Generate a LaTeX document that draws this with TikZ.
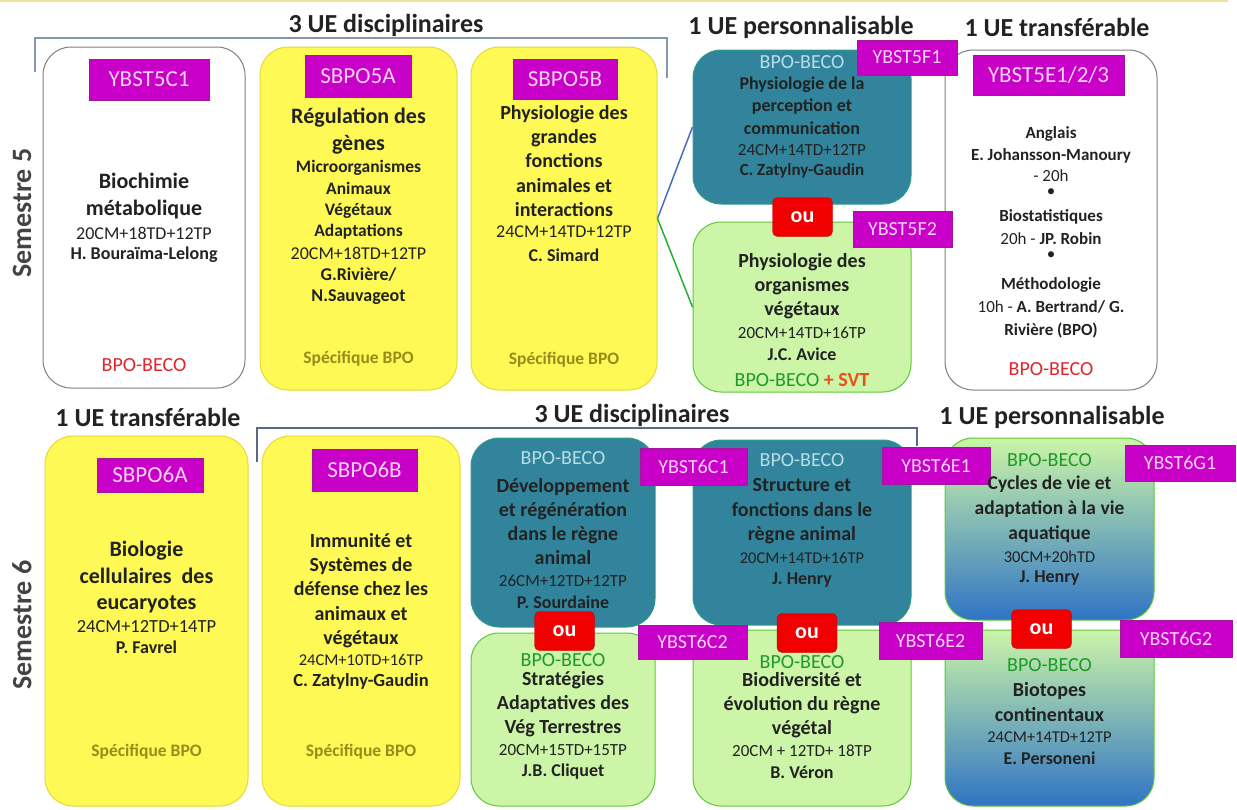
\documentclass[tikz,border=0pt]{standalone}
\usepackage{fontspec}
\setmainfont{Carlito}
\usepackage{xcolor}
\usepackage{tikz}

\definecolor{texte}{HTML}{222222}
\definecolor{gristrait}{HTML}{7F7F7F}
\definecolor{jaunefond}{HTML}{FFF955}
\definecolor{jaunetrait}{HTML}{E6D83A}
\definecolor{bleufond}{HTML}{31849B}
\definecolor{bleutrait}{HTML}{2E9C88}
\definecolor{bleutexte}{HTML}{B7DEE8}
\definecolor{vertfond}{HTML}{CCF5A8}
\definecolor{verttrait}{HTML}{5CC83A}
\definecolor{verttexte}{HTML}{1E9A28}
\definecolor{degradebas}{HTML}{2F74C4}
\definecolor{codefond}{HTML}{C800C8}
\definecolor{codetrait}{HTML}{A0189A}
\definecolor{codetexte}{HTML}{FAD2FA}
\definecolor{rougefond}{HTML}{F00000}
\definecolor{rougetrait}{HTML}{C00000}
\definecolor{rougetexte}{HTML}{E0262C}
\definecolor{specifique}{HTML}{9A8A1C}
\definecolor{svt}{HTML}{E8501C}
\definecolor{accolade}{HTML}{8496B0}
\definecolor{accoladebas}{HTML}{5A6A85}
\definecolor{lienbleu}{HTML}{4A6CC0}
\definecolor{lienvert}{HTML}{22B02E}
\definecolor{lignehaut}{HTML}{EDE3A0}

\tikzset{
	cadre/.style={rounded corners=28pt, line width=1pt, inner sep=0pt},
	blanc/.style={cadre, draw=gristrait, fill=white},
	jaune/.style={cadre, draw=jaunetrait, fill=jaunefond},
	bleu/.style={cadre, draw=bleutrait, fill=bleufond},
	vert/.style={cadre, draw=verttrait, fill=vertfond},
	degrade/.style={cadre, draw=verttrait, top color=vertfond, bottom color=degradebas},
	codeue/.style={fill=codefond, draw=codetrait, text=codetexte, inner sep=0pt, font=\fontsize{#1}{#1}\selectfont},
	oubox/.style={fill=rougefond, draw=rougetrait, rounded corners=5pt, text=white, inner sep=0pt, minimum width=60, minimum height=39, font=\bfseries\fontsize{22}{22}\selectfont},
	entete/.style={text=texte, font=\bfseries\fontsize{26}{26}\selectfont},
	semestre/.style={rotate=90, text=texte!85, font=\bfseries\fontsize{28}{28}\selectfont},
	titre/.style 2 args={align=center, text=texte, font=\bfseries\fontsize{#1}{#2}\selectfont},
	heures/.style={text=texte, font=\fontsize{#1}{#1}\selectfont},
	resp/.style={align=center, text=texte, font=\bfseries\fontsize{#1}{21}\selectfont},
	parcours/.style={font=\fontsize{20}{20}\selectfont},
	specif/.style={text=specifique, font=\bfseries\fontsize{17.5}{17.5}\selectfont},
	lien/.style={line width=1.5pt}
}

\begin{document}
\begin{tikzpicture}[x=1pt,y=-1pt]
	\useasboundingbox (0,0) rectangle (1237,809);
	\draw[lignehaut, line width=2pt] (0,1) -- (1228,1);

	\node[entete] (h5dis) at (386,25) {3 UE disciplinaires};
	\node[entete] (h5per) at (801,27) {1 UE personnalisable};
	\node[entete] (h5tra) at (1057,27) {1 UE transférable};
	\node[entete] (h6tra) at (148,417) {1 UE transférable};
	\node[entete] (h6dis) at (632,415) {3 UE disciplinaires};
	\node[entete] (h6per) at (1052,417) {1 UE personnalisable};
	\draw[accolade, line width=1.5pt] (35,72) |- (667,38) -- (667,78);
	\draw[accoladebas, line width=1.2pt] (257,462) |- (917,428) -- (917,446);

	\node[semestre] (s5) at (22,213) {Semestre 5};
	\node[semestre] (s6) at (22,625) {Semestre 6};

	\node[blanc, minimum width=202, minimum height=341] (b5C1) at (144,217.5) {};
	\node[jaune, minimum width=197, minimum height=343] (b5A) at (358.5,218.5) {};
	\node[jaune, minimum width=186, minimum height=343] (b5B) at (564,218.5) {};
	\node[bleu, minimum width=218, minimum height=154] (b5F1) at (802,127) {};
	\node[vert, minimum width=218, minimum height=170] (b5F2) at (802,307) {};
	\node[blanc, minimum width=212, minimum height=340] (b5E) at (1051,220) {};
	\draw[lien, lienbleu] (b5B.east) -- (b5F1.west);
	\draw[lien, lienvert] (b5B.east) -- (b5F2.west);

	\node[jaune, minimum width=203, minimum height=370] (b6A) at (146.5,621) {};
	\node[jaune, minimum width=198, minimum height=370] (b6B) at (361,621) {};
	\node[bleu, minimum width=184, minimum height=189] (b6C1) at (563,532.5) {};
	\node[vert, minimum width=184, minimum height=173] (b6C2) at (563,719.5) {};
	\node[bleu, minimum width=218, minimum height=185] (b6E1) at (802,532.5) {};
	\node[vert, minimum width=218, minimum height=176] (b6E2) at (802,718) {};
	\node[degrade, minimum width=209, minimum height=182] (b6G1) at (1049.5,529) {};
	\node[degrade, minimum width=209, minimum height=176] (b6G2) at (1049.5,718) {};

	\node[codeue=23, minimum width=120, minimum height=41] (t5C1) at (149,79.5) {YBST5C1};
	\node[codeue=23, minimum width=106, minimum height=42] (t5A) at (358,76) {SBPO5A};
	\node[codeue=23, minimum width=104, minimum height=40] (t5B) at (565,79) {SBPO5B};
	\node[codeue=20, minimum width=100, minimum height=35] (t5F1) at (907,57.5) {YBST5F1};
	\node[codeue=20, minimum width=99, minimum height=36] (t5F2) at (902.5,229) {YBST5F2};
	\node[codeue=23, minimum width=151, minimum height=40] (t5E) at (1048.5,75) {YBST5E1/2/3};
	\node[oubox] (ou5) at (802.5,217) {ou};

	\node[codeue=23, minimum width=106, minimum height=34] (t6A) at (150,475) {SBPO6A};
	\node[codeue=23, minimum width=105, minimum height=42] (t6B) at (364.5,470) {SBPO6B};
	\node[codeue=20, minimum width=107, minimum height=37] (t6C1) at (693.5,466.5) {YBST6C1};
	\node[codeue=20, minimum width=109, minimum height=34] (t6C2) at (692.5,642) {YBST6C2};
	\node[codeue=20, minimum width=108, minimum height=37] (t6E1) at (936,465.5) {YBST6E1};
	\node[codeue=20, minimum width=103, minimum height=37] (t6E2) at (930.5,640.5) {YBST6E2};
	\node[codeue=20, minimum width=110, minimum height=36] (t6G1) at (1180,463) {YBST6G1};
	\node[codeue=20, minimum width=112, minimum height=37] (t6G2) at (1176,638.5) {YBST6G2};
	\node[oubox] (ou6C) at (564.5,631) {ou};
	\node[oubox] (ou6E) at (807,633) {ou};
	\node[oubox] (ou6G) at (1041.5,629) {ou};

	\node[titre={22}{27}] (n5C1) at (144,196.5) {Biochimie\\métabolique};
	\node[heures=18] (h5C1) at (144,233) {20CM+18TD+12TP};
	\node[resp=18] (r5C1) at (144,255) {H. Bouraïma-Lelong};
	\node[parcours, text=rougetexte] (p5C1) at (144,365) {BPO-BECO};

	\node[titre={22}{27}] (n5A) at (358.5,131.5) {Régulation des\\gènes};
	\node[titre={17.5}{21.3}] (d5A) at (358.5,200) {Microorganismes\\Animaux\\Végétaux\\Adaptations};
	\node[heures=18] (h5A) at (358.5,253) {20CM+18TD+12TP};
	\node[resp=18] (r5A) at (358.5,286.5) {G.Rivière/\\N.Sauvageot};
	\node[specif] (p5A) at (358.5,359) {Spécifique BPO};

	\node[titre={20}{24.25}] (n5B) at (564,161) {Physiologie des\\grandes\\fonctions\\animales et\\interactions};
	\node[heures=18] (h5B) at (564,232) {24CM+14TD+12TP};
	\node[resp=18] (r5B) at (564,255) {C. Simard};
	\node[specif] (p5B) at (564,360) {Spécifique BPO};

	\node[parcours, text=bleutexte] (p5F1) at (802,62) {BPO-BECO};
	\node[titre={18}{22.5}] (n5F1) at (802,105.5) {Physiologie de la\\perception et\\communication};
	\node[heures=17] (h5F1) at (802,150) {24CM+14TD+12TP};
	\node[resp=17] (r5F1) at (802,171) {C. Zatylny-Gaudin};

	\node[titre={20}{24}] (n5F2) at (802,286) {Physiologie des\\organismes\\végétaux};
	\node[heures=17] (h5F2) at (802,333) {20CM+14TD+16TP};
	\node[resp=18] (r5F2) at (802,354) {J.C. Avice};
	\node[parcours] (p5F2) at (802,380) {\textcolor{verttexte}{BPO-BECO} \textcolor{svt}{\textbf{+ SVT}}};

	\node[titre={17}{21.5}] (n5E1) at (1051,154.5) {Anglais\\E. Johansson-Manoury\\\mdseries - 20h};
	\node[heures=17] (x5E1) at (1051,193) {•};
	\node[heures=17, align=center, font=\fontsize{17}{23}\selectfont] (n5E2) at (1051,227.5) {\textbf{Biostatistiques}\\20h - \textbf{JP. Robin}};
	\node[heures=17] (x5E2) at (1051,256) {•};
	\node[heures=17, align=center, font=\fontsize{17}{23}\selectfont] (n5E3) at (1051,308) {\textbf{Méthodologie}\\10h - \textbf{A. Bertrand/ G.}\\\textbf{Rivière (BPO)}};
	\node[parcours, text=rougetexte] (p5E) at (1051,369) {BPO-BECO};

	\node[titre={22}{26.5}] (n6A) at (146.5,577.5) {Biologie\\cellulaires\ \ des\\eucaryotes};
	\node[heures=18.5] (h6A) at (146.5,627) {24CM+12TD+14TP};
	\node[resp=18] (r6A) at (146.5,647) {P. Favrel};
	\node[specif] (p6A) at (146.5,752) {Spécifique BPO};

	\node[titre={20}{24.25}] (n6B) at (361,590.5) {Immunité et\\Systèmes de\\défense chez les\\animaux et\\végétaux};
	\node[heures=16.5] (h6B) at (361,660) {24CM+10TD+16TP};
	\node[resp=18.5] (r6B) at (361,681) {C. Zatylny-Gaudin};
	\node[specif] (p6B) at (361,752) {Spécifique BPO};

	\node[parcours, text=bleutexte] (p6C1) at (563,458) {BPO-BECO};
	\node[titre={20}{24.3}] (n6C1) at (563,521.5) {Développement\\et régénération\\dans le règne\\animal};
	\node[heures=17] (h6C1) at (563,581) {26CM+12TD+12TP};
	\node[resp=18] (r6C1) at (563,602) {P. Sourdaine};

	\node[parcours, text=verttexte] (p6C2) at (563,660) {BPO-BECO};
	\node[titre={20}{24}] (n6C2) at (563,704) {Stratégies\\Adaptatives des\\Vég Terrestres};
	\node[heures=17] (h6C2) at (563,750) {20CM+15TD+15TP};
	\node[resp=18] (r6C2) at (563,772) {J.B. Cliquet};

	\node[parcours, text=bleutexte] (p6E1) at (802,460) {BPO-BECO};
	\node[titre={20}{24.5}] (n6E1) at (802,511.5) {Structure et\\fonctions dans le\\règne animal};
	\node[heures=16.5] (h6E1) at (802,558) {20CM+14TD+16TP};
	\node[resp=18] (r6E1) at (802,580) {J. Henry};

	\node[parcours, text=verttexte] (p6E2) at (802,662) {BPO-BECO};
	\node[titre={20}{24}] (n6E2) at (802,705) {Biodiversité et\\évolution du règne\\végétal};
	\node[heures=17] (h6E2) at (802,751) {20CM + 12TD+ 18TP};
	\node[resp=18] (r6E2) at (802,772) {B. Véron};

	\node[parcours, text=verttexte] (p6G1) at (1049.5,460) {BPO-BECO};
	\node[titre={19.5}{25}] (n6G1) at (1049.5,509) {Cycles de vie et\\adaptation à la vie\\aquatique};
	\node[heures=16.5] (h6G1) at (1049.5,557) {30CM+20hTD};
	\node[resp=18] (r6G1) at (1049.5,578) {J. Henry};

	\node[parcours, text=verttexte] (p6G2) at (1049.5,665) {BPO-BECO};
	\node[titre={20}{25}] (n6G2) at (1049.5,702.5) {Biotopes\\continentaux};
	\node[heures=16.5] (h6G2) at (1049.5,737) {24CM+14TD+12TP};
	\node[resp=18] (r6G2) at (1049.5,758) {E. Personeni};
\end{tikzpicture}
\end{document}
